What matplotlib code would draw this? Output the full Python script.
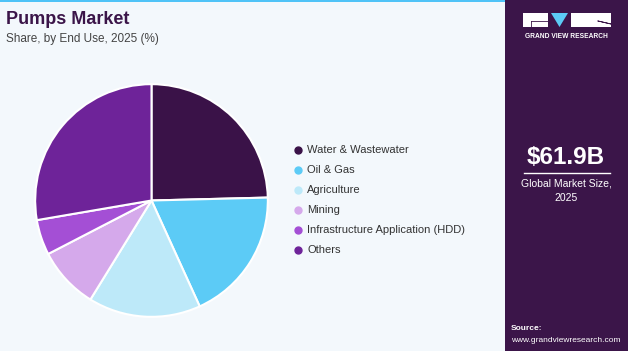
import matplotlib.pyplot as plt
from matplotlib.patches import Rectangle, Polygon
from matplotlib.lines import Line2D

# Data
segments = ['Water & Wastewater', 'Oil & Gas', 'Agriculture', 'Mining',
            'Infrastructure Application (HDD)', 'Others']
shares = [24.6, 18.6, 15.6, 8.6, 4.9, 27.7]
colors = ['#3a1248', '#5ccbf6', '#bde9f9', '#d5a9eb', '#a44fd5', '#6e2399']

plt.rcParams['font.family'] = ['Liberation Sans', 'DejaVu Sans']

W, H = 628, 351
bg = '#f3f8fc'
panel = '#3b1549'

fig = plt.figure(figsize=(W / 100, H / 100), dpi=100)
fig.patch.set_facecolor(bg)

# right side panel and top accent line
fig.patches.append(Rectangle((505 / W, 0), 1 - 505 / W, 1, transform=fig.transFigure,
                             facecolor=panel, edgecolor='none', zorder=0))
fig.patches.append(Rectangle((0, 1 - 2 / H), 505 / W, 2 / H, transform=fig.transFigure,
                             facecolor='#4fc3f7', edgecolor='none', zorder=1))

# title
fig.text(6 / W, 1 - 19 / H, 'Pumps Market', fontsize=13, fontweight='bold',
         color=panel, va='center', ha='left')
fig.text(6 / W, 1 - 39 / H, 'Share, by End Use, 2025 (%)', fontsize=8.5,
         color='#444444', va='center', ha='left')

# pie
cx, cy, r = 151.5, 150.5, 117.5
ax = fig.add_axes([(cx - r) / W, (cy - r) / H, 2 * r / W, 2 * r / H])
ax.pie(shares, colors=colors, startangle=90, counterclock=False,
       wedgeprops=dict(edgecolor='white', linewidth=1.5))
ax.set_xlim(-1.01, 1.01)
ax.set_ylim(-1.01, 1.01)
ax.set_aspect('equal')
ax.axis('off')

# legend
for i, (name, col) in enumerate(zip(segments, colors)):
    y = 1 - (150 + 20 * i) / H
    fig.lines.append(Line2D([298 / W], [y], transform=fig.transFigure, marker='o',
                            markersize=5, color=col, linestyle='none'))
    fig.text(307 / W, y, name, fontsize=8, color='#333333', va='center', ha='left')

# logo
fig.patches.append(Rectangle((523 / W, 1 - 27 / H), 25 / W, 14 / H, transform=fig.transFigure,
                             facecolor='white', edgecolor='none'))
fig.lines.append(Line2D([531 / W, 548 / W, ], [1 - 21 / H, 1 - 21 / H],
                        transform=fig.transFigure, color=panel, linewidth=0.6))
fig.lines.append(Line2D([531 / W, 531 / W], [1 - 21 / H, 1 - 27 / H],
                        transform=fig.transFigure, color=panel, linewidth=0.6))
fig.patches.append(Polygon([(551 / W, 1 - 13 / H), (568 / W, 1 - 13 / H), (559.5 / W, 1 - 27 / H)],
                           closed=True, transform=fig.transFigure, facecolor='#5ccbf6', edgecolor='none'))
fig.patches.append(Rectangle((571 / W, 1 - 27 / H), 40 / W, 14 / H, transform=fig.transFigure,
                             facecolor='white', edgecolor='none'))
fig.lines.append(Line2D([598 / W, 611 / W, 598 / W], [1 - 21 / H, 1 - 24 / H, 1 - 21 / H],
                        transform=fig.transFigure, color=panel, linewidth=0.6))
fig.text(566 / W, 1 - 37 / H, 'GRAND VIEW RESEARCH', fontsize=4.8, fontweight='bold',
         color='white', ha='center', va='center')

# market size
fig.text(566 / W, 1 - 157 / H, '$61.9B', fontsize=17.5, fontweight='bold',
         color='white', ha='center', va='center')
fig.lines.append(Line2D([524 / W, 610 / W], [1 - 173 / H, 1 - 173 / H],
                        transform=fig.transFigure, color='white', linewidth=1))
fig.text(566 / W, 1 - 184 / H, 'Global Market Size,', fontsize=7.5,
         color='white', ha='center', va='center')
fig.text(566 / W, 1 - 198 / H, '2025', fontsize=7.5,
         color='white', ha='center', va='center')

# source
fig.text(511 / W, 1 - 328 / H, 'Source:', fontsize=6, fontweight='bold',
         color='white', ha='left', va='center')
fig.text(511 / W, 1 - 340 / H, 'www.grandviewresearch.com', fontsize=6,
         color='white', ha='left', va='center')

fig.savefig('out.png', dpi=100, facecolor=bg)
